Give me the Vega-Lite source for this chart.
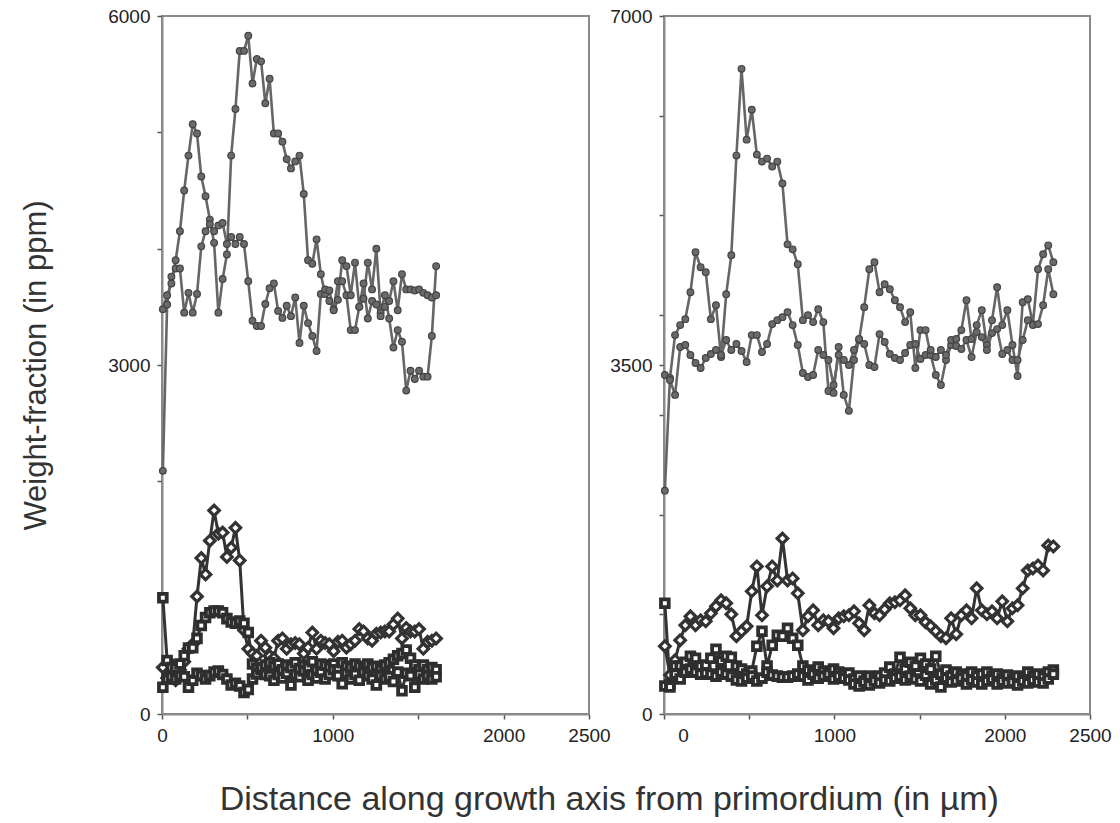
{
"$schema": "https://vega.github.io/schema/vega-lite/v6.json",
"padding": {"left": 19, "top": 6, "right": 5, "bottom": 5},
"background": "white",
"spacing": 75,
"bounds": "flush",
"title": {"text": "Distance along growth axis from primordium (in µm)", "orient": "bottom", "fontSize": 34, "fontWeight": "normal", "color": "#333", "font": "Liberation Sans", "offset": 37, "dx": 200},
"config": {
  "font": "Liberation Sans",
  "view": {"stroke": "#8a8a8a", "strokeWidth": 2},
  "axis": {"domainColor": "#8a8a8a", "domainWidth": 2, "tickColor": "#555", "tickWidth": 1.5, "tickSize": 5, "labelFont": "Liberation Sans", "labelFontSize": 19, "labelColor": "#222", "grid": false, "labelPadding": 7, "labelFlush": false, "labelOverlap": false}
},
"data": {"values": [
{"p":"L","x":5,"c1":3480,"c2":2090,"d":400,"s1":1000,"s2":230},
{"p":"L","x":30,"c1":3600,"c2":3520,"d":310,"s1":460,"s2":300},
{"p":"L","x":55,"c1":3700,"c2":3760,"d":430,"s1":400,"s2":320},
{"p":"L","x":80,"c1":3900,"c2":3830,"d":290,"s1":395,"s2":300},
{"p":"L","x":105,"c1":4150,"c2":3830,"d":380,"s1":430,"s2":330},
{"p":"L","x":130,"c1":4500,"c2":3450,"d":450,"s1":500,"s2":320},
{"p":"L","x":155,"c1":4800,"c2":3620,"d":560,"s1":567,"s2":230},
{"p":"L","x":180,"c1":5070,"c2":3450,"d":600,"s1":570,"s2":290},
{"p":"L","x":205,"c1":4990,"c2":3610,"d":1010,"s1":650,"s2":350},
{"p":"L","x":230,"c1":4620,"c2":4020,"d":1340,"s1":760,"s2":330},
{"p":"L","x":255,"c1":4450,"c2":4150,"d":1200,"s1":830,"s2":300},
{"p":"L","x":280,"c1":4250,"c2":4210,"d":1490,"s1":870,"s2":330},
{"p":"L","x":305,"c1":4050,"c2":4150,"d":1750,"s1":885,"s2":360},
{"p":"L","x":330,"c1":3450,"c2":4200,"d":1550,"s1":885,"s2":370},
{"p":"L","x":355,"c1":3740,"c2":4220,"d":1560,"s1":870,"s2":340},
{"p":"L","x":380,"c1":3950,"c2":4040,"d":1350,"s1":820,"s2":300},
{"p":"L","x":405,"c1":4800,"c2":4100,"d":1430,"s1":790,"s2":250},
{"p":"L","x":430,"c1":5200,"c2":4040,"d":1600,"s1":780,"s2":265},
{"p":"L","x":455,"c1":5700,"c2":4100,"d":1320,"s1":800,"s2":240},
{"p":"L","x":480,"c1":5700,"c2":4040,"d":720,"s1":780,"s2":185},
{"p":"L","x":505,"c1":5830,"c2":3720,"d":560,"s1":700,"s2":210},
{"p":"L","x":530,"c1":5420,"c2":3380,"d":520,"s1":430,"s2":300},
{"p":"L","x":555,"c1":5630,"c2":3335,"d":500,"s1":395,"s2":345},
{"p":"L","x":580,"c1":5610,"c2":3335,"d":630,"s1":380,"s2":395},
{"p":"L","x":605,"c1":5250,"c2":3525,"d":570,"s1":420,"s2":340},
{"p":"L","x":630,"c1":5460,"c2":3660,"d":500,"s1":440,"s2":330},
{"p":"L","x":655,"c1":4990,"c2":3700,"d":480,"s1":410,"s2":290},
{"p":"L","x":680,"c1":4990,"c2":3465,"d":630,"s1":430,"s2":340},
{"p":"L","x":705,"c1":4920,"c2":3405,"d":650,"s1":380,"s2":310},
{"p":"L","x":730,"c1":4770,"c2":3510,"d":560,"s1":420,"s2":350},
{"p":"L","x":755,"c1":4690,"c2":3420,"d":600,"s1":400,"s2":250},
{"p":"L","x":780,"c1":4750,"c2":3580,"d":610,"s1":440,"s2":340},
{"p":"L","x":805,"c1":4800,"c2":3190,"d":600,"s1":390,"s2":320},
{"p":"L","x":830,"c1":4470,"c2":3510,"d":520,"s1":420,"s2":370},
{"p":"L","x":855,"c1":3900,"c2":3360,"d":570,"s1":400,"s2":290},
{"p":"L","x":880,"c1":3870,"c2":3250,"d":700,"s1":450,"s2":340},
{"p":"L","x":905,"c1":4080,"c2":3120,"d":560,"s1":380,"s2":310},
{"p":"L","x":930,"c1":3780,"c2":3610,"d":630,"s1":430,"s2":360},
{"p":"L","x":955,"c1":3610,"c2":3650,"d":610,"s1":420,"s2":300},
{"p":"L","x":980,"c1":3550,"c2":3640,"d":600,"s1":400,"s2":340},
{"p":"L","x":1005,"c1":3480,"c2":3470,"d":540,"s1":430,"s2":380},
{"p":"L","x":1030,"c1":3720,"c2":3560,"d":620,"s1":380,"s2":330},
{"p":"L","x":1055,"c1":3720,"c2":3900,"d":630,"s1":440,"s2":260},
{"p":"L","x":1080,"c1":3600,"c2":3850,"d":570,"s1":410,"s2":350},
{"p":"L","x":1105,"c1":3300,"c2":3600,"d":600,"s1":400,"s2":300},
{"p":"L","x":1130,"c1":3300,"c2":3880,"d":630,"s1":430,"s2":340},
{"p":"L","x":1155,"c1":3500,"c2":3500,"d":730,"s1":410,"s2":290},
{"p":"L","x":1180,"c1":3570,"c2":3700,"d":710,"s1":390,"s2":360},
{"p":"L","x":1205,"c1":3880,"c2":3400,"d":650,"s1":430,"s2":330},
{"p":"L","x":1230,"c1":3650,"c2":3550,"d":630,"s1":400,"s2":300},
{"p":"L","x":1255,"c1":4000,"c2":3520,"d":690,"s1":410,"s2":250},
{"p":"L","x":1280,"c1":3450,"c2":3420,"d":700,"s1":380,"s2":330},
{"p":"L","x":1305,"c1":3600,"c2":3500,"d":710,"s1":420,"s2":300},
{"p":"L","x":1330,"c1":3400,"c2":3550,"d":710,"s1":440,"s2":320},
{"p":"L","x":1355,"c1":3150,"c2":3720,"d":770,"s1":470,"s2":280},
{"p":"L","x":1380,"c1":3300,"c2":3470,"d":820,"s1":500,"s2":360},
{"p":"L","x":1405,"c1":3200,"c2":3780,"d":650,"s1":520,"s2":200},
{"p":"L","x":1430,"c1":2780,"c2":3650,"d":740,"s1":550,"s2":350},
{"p":"L","x":1455,"c1":2950,"c2":3650,"d":710,"s1":480,"s2":330},
{"p":"L","x":1480,"c1":2880,"c2":3640,"d":710,"s1":420,"s2":230},
{"p":"L","x":1505,"c1":2950,"c2":3650,"d":730,"s1":380,"s2":340},
{"p":"L","x":1530,"c1":2900,"c2":3620,"d":560,"s1":420,"s2":300},
{"p":"L","x":1555,"c1":2900,"c2":3600,"d":620,"s1":380,"s2":330},
{"p":"L","x":1580,"c1":3250,"c2":3580,"d":630,"s1":400,"s2":300},
{"p":"L","x":1605,"c1":3850,"c2":3600,"d":650,"s1":380,"s2":320},
{"p":"R","x":5,"c1":2240,"c2":3400,"d":680,"s1":1110,"s2":280},
{"p":"R","x":35,"c1":3370,"c2":3350,"d":390,"s1":300,"s2":270},
{"p":"R","x":65,"c1":3800,"c2":3200,"d":540,"s1":480,"s2":400},
{"p":"R","x":95,"c1":3900,"c2":3680,"d":740,"s1":480,"s2":350},
{"p":"R","x":125,"c1":3960,"c2":3700,"d":890,"s1":520,"s2":420},
{"p":"R","x":155,"c1":4230,"c2":3600,"d":980,"s1":580,"s2":450},
{"p":"R","x":185,"c1":4630,"c2":3520,"d":890,"s1":560,"s2":420},
{"p":"R","x":215,"c1":4480,"c2":3470,"d":940,"s1":480,"s2":400},
{"p":"R","x":245,"c1":4430,"c2":3570,"d":930,"s1":490,"s2":410},
{"p":"R","x":275,"c1":3960,"c2":3610,"d":1010,"s1":560,"s2":400},
{"p":"R","x":305,"c1":4100,"c2":3650,"d":1080,"s1":650,"s2":380},
{"p":"R","x":335,"c1":3580,"c2":3600,"d":1140,"s1":530,"s2":420},
{"p":"R","x":365,"c1":4210,"c2":3750,"d":1110,"s1":580,"s2":400},
{"p":"R","x":395,"c1":4600,"c2":3650,"d":1000,"s1":570,"s2":380},
{"p":"R","x":425,"c1":5600,"c2":3710,"d":780,"s1":480,"s2":340},
{"p":"R","x":455,"c1":6470,"c2":3640,"d":830,"s1":450,"s2":330},
{"p":"R","x":485,"c1":5760,"c2":3530,"d":880,"s1":400,"s2":360},
{"p":"R","x":515,"c1":6060,"c2":3800,"d":1230,"s1":430,"s2":380},
{"p":"R","x":545,"c1":5610,"c2":3800,"d":1480,"s1":680,"s2":330},
{"p":"R","x":575,"c1":5540,"c2":3630,"d":990,"s1":830,"s2":360},
{"p":"R","x":605,"c1":5570,"c2":3710,"d":1280,"s1":480,"s2":420},
{"p":"R","x":635,"c1":5490,"c2":3910,"d":1480,"s1":690,"s2":390},
{"p":"R","x":665,"c1":5540,"c2":3950,"d":1340,"s1":790,"s2":380},
{"p":"R","x":695,"c1":5320,"c2":3980,"d":1760,"s1":780,"s2":370},
{"p":"R","x":725,"c1":4710,"c2":4030,"d":1340,"s1":860,"s2":370},
{"p":"R","x":755,"c1":4660,"c2":3900,"d":1360,"s1":760,"s2":380},
{"p":"R","x":785,"c1":4510,"c2":3700,"d":1210,"s1":690,"s2":400},
{"p":"R","x":815,"c1":3950,"c2":3420,"d":840,"s1":480,"s2":380},
{"p":"R","x":845,"c1":4000,"c2":3380,"d":980,"s1":440,"s2":340},
{"p":"R","x":875,"c1":3930,"c2":3400,"d":1040,"s1":420,"s2":400},
{"p":"R","x":905,"c1":4060,"c2":3650,"d":890,"s1":470,"s2":360},
{"p":"R","x":935,"c1":3930,"c2":3600,"d":940,"s1":430,"s2":380},
{"p":"R","x":965,"c1":3240,"c2":3550,"d":930,"s1":400,"s2":400},
{"p":"R","x":995,"c1":3220,"c2":3300,"d":860,"s1":450,"s2":350},
{"p":"R","x":1025,"c1":3680,"c2":3600,"d":960,"s1":420,"s2":380},
{"p":"R","x":1055,"c1":3200,"c2":3550,"d":980,"s1":400,"s2":360},
{"p":"R","x":1085,"c1":3040,"c2":3500,"d":990,"s1":410,"s2":340},
{"p":"R","x":1115,"c1":3550,"c2":3650,"d":1030,"s1":350,"s2":300},
{"p":"R","x":1145,"c1":3750,"c2":3760,"d":910,"s1":380,"s2":280},
{"p":"R","x":1175,"c1":4080,"c2":3710,"d":840,"s1":330,"s2":320},
{"p":"R","x":1205,"c1":4460,"c2":3500,"d":1090,"s1":380,"s2":290},
{"p":"R","x":1235,"c1":4530,"c2":3480,"d":1010,"s1":350,"s2":330},
{"p":"R","x":1265,"c1":4230,"c2":3810,"d":990,"s1":380,"s2":310},
{"p":"R","x":1295,"c1":4310,"c2":3730,"d":1050,"s1":410,"s2":340},
{"p":"R","x":1325,"c1":4260,"c2":3610,"d":1110,"s1":470,"s2":330},
{"p":"R","x":1355,"c1":4150,"c2":3570,"d":1120,"s1":400,"s2":360},
{"p":"R","x":1385,"c1":4080,"c2":3550,"d":1140,"s1":570,"s2":380},
{"p":"R","x":1415,"c1":3930,"c2":3620,"d":1190,"s1":450,"s2":340},
{"p":"R","x":1445,"c1":4030,"c2":3700,"d":1060,"s1":520,"s2":380},
{"p":"R","x":1475,"c1":3470,"c2":3710,"d":990,"s1":480,"s2":350},
{"p":"R","x":1505,"c1":3850,"c2":3560,"d":990,"s1":560,"s2":330},
{"p":"R","x":1535,"c1":3850,"c2":3600,"d":920,"s1":500,"s2":390},
{"p":"R","x":1565,"c1":3600,"c2":3650,"d":880,"s1":450,"s2":300},
{"p":"R","x":1595,"c1":3400,"c2":3580,"d":830,"s1":580,"s2":340},
{"p":"R","x":1625,"c1":3300,"c2":3650,"d":780,"s1":400,"s2":270},
{"p":"R","x":1655,"c1":3550,"c2":3600,"d":760,"s1":440,"s2":360},
{"p":"R","x":1685,"c1":3700,"c2":3750,"d":960,"s1":380,"s2":320},
{"p":"R","x":1715,"c1":3760,"c2":3690,"d":800,"s1":420,"s2":330},
{"p":"R","x":1745,"c1":3850,"c2":3660,"d":990,"s1":400,"s2":360},
{"p":"R","x":1775,"c1":4150,"c2":3750,"d":1040,"s1":380,"s2":300},
{"p":"R","x":1805,"c1":3760,"c2":3580,"d":960,"s1":420,"s2":340},
{"p":"R","x":1835,"c1":3900,"c2":3830,"d":1260,"s1":380,"s2":320},
{"p":"R","x":1865,"c1":4050,"c2":3780,"d":1040,"s1":400,"s2":300},
{"p":"R","x":1895,"c1":3700,"c2":3650,"d":1000,"s1":420,"s2":330},
{"p":"R","x":1925,"c1":3950,"c2":3820,"d":1030,"s1":380,"s2":350},
{"p":"R","x":1955,"c1":4280,"c2":3860,"d":960,"s1":400,"s2":300},
{"p":"R","x":1985,"c1":3900,"c2":3610,"d":1130,"s1":360,"s2":330},
{"p":"R","x":2015,"c1":4050,"c2":3650,"d":930,"s1":390,"s2":310},
{"p":"R","x":2045,"c1":3700,"c2":3550,"d":1060,"s1":350,"s2":320},
{"p":"R","x":2075,"c1":3390,"c2":3550,"d":1090,"s1":380,"s2":290},
{"p":"R","x":2105,"c1":4130,"c2":3750,"d":1260,"s1":360,"s2":330},
{"p":"R","x":2135,"c1":4160,"c2":3950,"d":1440,"s1":420,"s2":310},
{"p":"R","x":2165,"c1":3910,"c2":3900,"d":1460,"s1":380,"s2":340},
{"p":"R","x":2195,"c1":4460,"c2":3910,"d":1490,"s1":400,"s2":320},
{"p":"R","x":2225,"c1":4610,"c2":4100,"d":1440,"s1":370,"s2":310},
{"p":"R","x":2255,"c1":4700,"c2":4460,"d":1690,"s1":420,"s2":350},
{"p":"R","x":2285,"c1":4530,"c2":4210,"d":1680,"s1":440,"s2":400}
]},
"hconcat": [
{
  "width": 427, "height": 698,
  "transform": [{"filter": "datum.p == 'L'"}, {"fold": ["c1","c2","d","s1","s2"], "as": ["s","v"]}],
  "encoding": {
    "x": {"field": "x", "type": "quantitative", "scale": {"domain": [0,2500], "nice": false, "zero": false},
          "axis": {"values": [0,500,1000,1500,2000,2500], "format": "d", "labelExpr": "datum.value == 500 || datum.value == 1500 ? '' : datum.label", "title": null}},
    "y": {"field": "v", "type": "quantitative", "scale": {"domain": [0,6000], "nice": false},
          "axis": {"values": [0,1000,2000,3000,4000,5000,6000], "format": "d", "labelExpr": "datum.value % 3000 == 0 ? datum.label : ''", "title": "Weight-fraction (in ppm)", "titleFontSize": 31, "titleFontWeight": "normal", "titleColor": "#333", "titlePadding": 55, "titleFont": "Liberation Sans"}}
  },
  "layer": [
    {"transform": [{"filter": "datum.s == 'c1' || datum.s == 'c2'"}], "mark": {"type": "line", "stroke": "#666", "strokeWidth": 2.6}, "encoding": {"detail": {"field": "s"}}},
    {"transform": [{"filter": "datum.s != 'c1' && datum.s != 'c2'"}], "mark": {"type": "line", "stroke": "#333", "strokeWidth": 3}, "encoding": {"detail": {"field": "s"}}},
    {"transform": [{"filter": "datum.s == 'c1' || datum.s == 'c2'"}], "mark": {"type": "point", "shape": "circle", "filled": true, "fill": "#6a6a6a", "stroke": "#444", "strokeWidth": 1.2, "size": 45, "opacity": 1}},
    {"transform": [{"filter": "datum.s == 'd'"}], "mark": {"type": "point", "shape": "diamond", "filled": true, "fill": "white", "stroke": "#333", "strokeWidth": 3.2, "size": 110, "opacity": 1}},
    {"transform": [{"filter": "datum.s == 's1' || datum.s == 's2'"}], "mark": {"type": "point", "shape": "square", "filled": true, "fill": "white", "stroke": "#2e2e2e", "strokeWidth": 3.8, "size": 60, "opacity": 1}}
  ]
},
{
  "width": 426, "height": 698,
  "transform": [{"filter": "datum.p == 'R'"}, {"fold": ["c1","c2","d","s1","s2"], "as": ["s","v"]}],
  "encoding": {
    "x": {"field": "x", "type": "quantitative", "scale": {"domain": [0,2500], "nice": false, "zero": false},
          "axis": {"values": [0,500,1000,1500,2000,2500], "format": "d", "labelExpr": "datum.value == 500 || datum.value == 1500 ? '' : datum.label", "title": null, "labelOffset": {"condition": {"test": "datum.value == 0", "value": 19}, "value": 0}}},
    "y": {"field": "v", "type": "quantitative", "scale": {"domain": [0,7000], "nice": false},
          "axis": {"values": [0,1000,2000,3000,3500,4000,5000,6000,7000], "format": "d", "labelExpr": "datum.value == 0 || datum.value == 3500 || datum.value == 7000 ? datum.label : ''", "title": null}}
  },
  "layer": [
    {"transform": [{"filter": "datum.s == 'c1' || datum.s == 'c2'"}], "mark": {"type": "line", "stroke": "#666", "strokeWidth": 2.6}, "encoding": {"detail": {"field": "s"}}},
    {"transform": [{"filter": "datum.s != 'c1' && datum.s != 'c2'"}], "mark": {"type": "line", "stroke": "#333", "strokeWidth": 3}, "encoding": {"detail": {"field": "s"}}},
    {"transform": [{"filter": "datum.s == 'c1' || datum.s == 'c2'"}], "mark": {"type": "point", "shape": "circle", "filled": true, "fill": "#6a6a6a", "stroke": "#444", "strokeWidth": 1.2, "size": 45, "opacity": 1}},
    {"transform": [{"filter": "datum.s == 'd'"}], "mark": {"type": "point", "shape": "diamond", "filled": true, "fill": "white", "stroke": "#333", "strokeWidth": 3.2, "size": 110, "opacity": 1}},
    {"transform": [{"filter": "datum.s == 's1' || datum.s == 's2'"}], "mark": {"type": "point", "shape": "square", "filled": true, "fill": "white", "stroke": "#2e2e2e", "strokeWidth": 3.8, "size": 60, "opacity": 1}}
  ]
}
]
}
